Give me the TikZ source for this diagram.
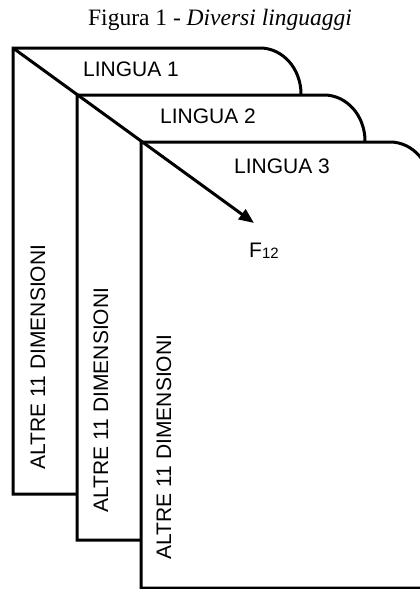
\documentclass[tikz,border=0pt]{standalone}
\usepackage{fontspec}
\setmainfont{Liberation Serif}
\setsansfont{Liberation Sans}
\usetikzlibrary{arrows.meta}
\begin{document}
\begin{tikzpicture}[x=1pt,y=-1pt,
  edge/.style={line width=3pt,line join=miter},
  lab/.style={font=\sffamily\fontsize{21}{21}\selectfont,inner sep=0pt},
  vlab/.style={lab,rotate=90,anchor=center}]
\useasboundingbox (0,0) rectangle (420,589);
% corners
\coordinate (a1) at (13,48);
\coordinate (a2) at (77,95);
\coordinate (a3) at (141,142);
\coordinate (b1) at (77,494);
\coordinate (b2) at (141,540);
\coordinate (b3) at (440,588);
\coordinate (tip) at (254,223);
% panels
\draw[edge] (b1) -- (13,494) -- (a1) -- (260,48)
  arc[start angle=90,end angle=0,x radius=41,y radius=-46];
\draw[edge] (b2) -- (77,540) -- (a2) -- (324,95)
  arc[start angle=90,end angle=0,x radius=41,y radius=-46];
\draw[edge] (b3) -- (141,588) -- (a3) -- (390,142)
  arc[start angle=90,end angle=0,x radius=41,y radius=-46];
% diagonal arrow
\draw[line width=3pt,-{Triangle[length=15pt,width=12pt]}] (a1) -- (tip);
% labels
\node[lab,anchor=base] (l1) at (131,76) {LINGUA 1};
\node[lab,anchor=base] (l2) at (208,123) {LINGUA 2};
\node[lab,anchor=base] (l3) at (282,173) {LINGUA 3};
\node[lab,anchor=base] (f) at (264,257) {F{\fontsize{15}{15}\selectfont\raisebox{-1.5pt}{12}}};
\node[vlab] (v1) at (38,357) {ALTRE 11 DIMENSIONI};
\node[vlab] (v2) at (101,400) {ALTRE 11 DIMENSIONI};
\node[vlab] (v3) at (164,447) {ALTRE 11 DIMENSIONI};
\node[anchor=base,inner sep=0pt,font=\fontsize{23.5}{23.5}\selectfont] (cap) at (220,25) {Figura 1 - \textit{Diversi linguaggi}};
\end{tikzpicture}
\end{document}
